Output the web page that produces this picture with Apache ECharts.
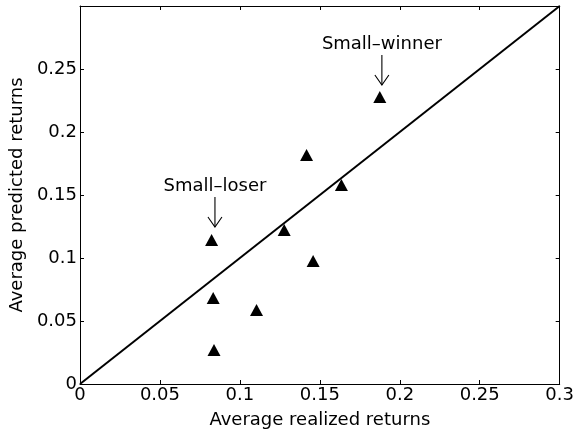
<!DOCTYPE html>
<html>
<head>
<meta charset="utf-8">
<script src="https://cdn.jsdelivr.net/npm/echarts@6/dist/echarts.min.js"></script>
<style>html,body{margin:0;padding:0;background:#fff}#c{width:577px;height:436px}</style>
</head>
<body>
<div id="c"></div>
<script>
const realized = [0.1875, 0.1417, 0.1635, 0.0823, 0.1277, 0.1458, 0.0833, 0.1104, 0.0838];
const predicted = [0.2278, 0.1817, 0.1580, 0.1143, 0.1222, 0.0976, 0.0683, 0.0587, 0.0270];
const diagX = [0, 0.3];
const diagY = [0, 0.3];
const annotLabels = ['Small–winner', 'Small–loser'];
const annotX = [0.1888, 0.0844];
const annotY = [0.2373, 0.1246];
const xTitle = 'Average realized returns';
const yTitle = 'Average predicted returns';

const FONT = 'DejaVu Sans';
const chart = echarts.init(document.getElementById('c'), null, {renderer: 'canvas'});

const axisCommon = {
  type: 'value', min: 0, max: 0.3, interval: 0.05,
  splitLine: {show: false},
  axisLine: {show: true, onZero: false, lineStyle: {color: '#000', width: 1}},
  axisTick: {show: true, inside: true, length: 4, lineStyle: {color: '#000', width: 1}},
};

chart.setOption({
  animation: false,
  backgroundColor: '#fff',
  grid: {left: 80, right: 17, top: 6, bottom: 52},
  xAxis: [
    Object.assign({}, axisCommon, {
      position: 'bottom',
      name: xTitle, nameLocation: 'middle', nameGap: 27,
      nameTextStyle: {color: '#000', fontFamily: FONT, fontSize: 18},
      axisLabel: {color: '#000', fontFamily: FONT, fontSize: 18, margin: 2,
        formatter: v => String(+v.toFixed(2))}
    }),
    Object.assign({}, axisCommon, {position: 'top', axisLabel: {show: false}})
  ],
  yAxis: [
    Object.assign({}, axisCommon, {
      position: 'left',
      name: yTitle, nameLocation: 'middle', nameGap: 53, nameRotate: 90,
      nameTextStyle: {color: '#000', fontFamily: FONT, fontSize: 18},
      axisLabel: {color: '#000', fontFamily: FONT, fontSize: 18, margin: 3, showMaxLabel: false,
        formatter: v => String(+v.toFixed(2))}
    }),
    Object.assign({}, axisCommon, {position: 'right', axisLabel: {show: false}})
  ],
  series: [
    {
      type: 'line', data: diagX.map((x, i) => [x, diagY[i]]),
      symbol: 'none', lineStyle: {color: '#000', width: 2}, silent: true
    },
    {
      type: 'scatter', data: realized.map((x, i) => [x, predicted[i]]),
      symbol: 'triangle', symbolSize: [13, 12],
      itemStyle: {color: '#000', opacity: 1}
    },
    {
      type: 'custom', silent: true,
      data: annotX.map((x, i) => [x, annotY[i], i]),
      renderItem: function (params, api) {
        const tip = api.coord([api.value(0), api.value(1)]);
        const label = annotLabels[api.value(2)];
        const tx = tip[0], ty = tip[1];
        return {
          type: 'group',
          children: [
            {type: 'line', shape: {x1: tx, y1: ty - 30, x2: tx, y2: ty},
              style: {stroke: '#000', lineWidth: 1.1}},
            {type: 'polyline', shape: {points: [[tx - 7, ty - 10], [tx, ty], [tx + 7, ty - 10]]},
              style: {stroke: '#000', lineWidth: 1.1, fill: null}},
            {type: 'text', x: tx, y: ty - 32,
              style: {text: label, fill: '#000', font: '18px "' + FONT + '"',
                align: 'center', verticalAlign: 'bottom'}}
          ]
        };
      }
    }
  ]
});
</script>
</body>
</html>
